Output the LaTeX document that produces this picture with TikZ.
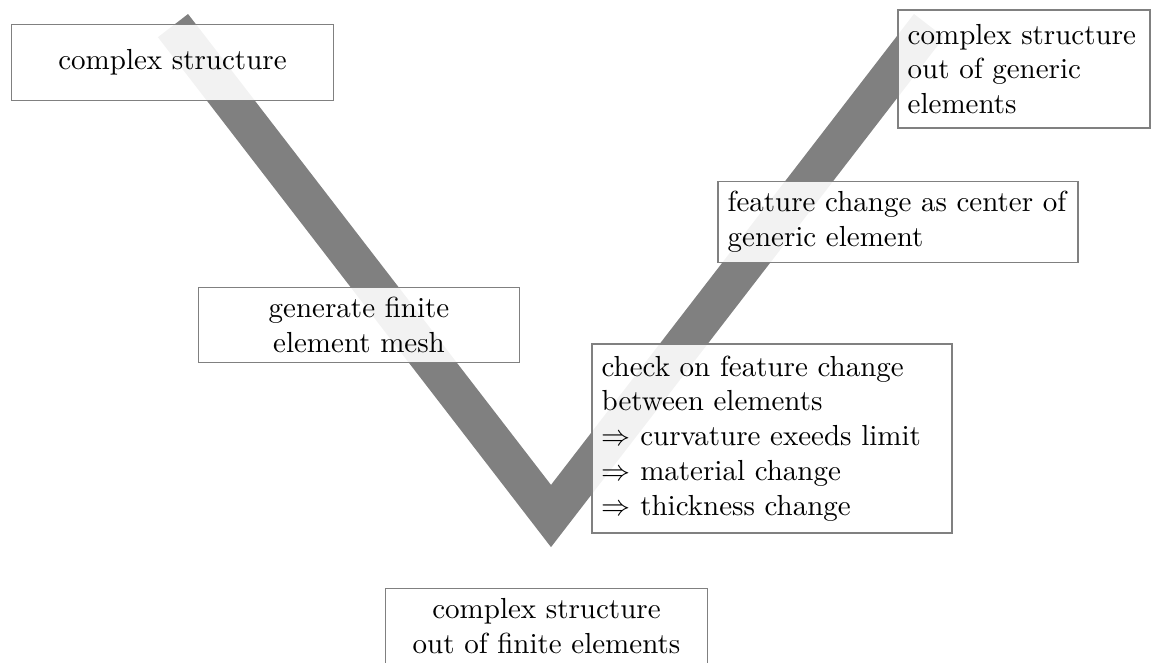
\documentclass[tikz,border=0pt]{standalone}
\begin{document}
\begin{tikzpicture}[x=0.34483pt,y=-0.34483pt,
  vband/.style={draw=gray,line width=13.1pt},
  stage/.style={draw=gray,line width=0.4pt,fill=white,fill opacity=0.9,text opacity=1,inner sep=3.33pt},
  cbox/.style={stage,text width=104.3pt,align=center,minimum height=26pt},
  lbox/.style={stage,align=left}]
\useasboundingbox (0,0) rectangle (1151,662);
\coordinate (vl) at (173,25.6);
\coordinate (vb) at (551,516);
\coordinate (vr) at (929,25.6);
\draw[vband] (vl) -- (vb) -- (vr);
\node[cbox] (a) at (172.5,62.5) {complex structure};
\node[cbox] (b) at (359,325) {generate finite\\element mesh};
\node[cbox] (c) at (546.5,626) {complex structure\\out of finite elements};
\node[lbox,text width=80.2pt,minimum height=40.7pt] (d) at (1024,69) {complex structure\\out of generic\\elements};
\node[lbox,text width=117.5pt,minimum height=27.6pt] (e) at (898,222) {feature change as center of\\generic element};
\node[lbox,text width=117.5pt,minimum height=65.2pt] (f) at (772,438.5) {check on feature change\\between elements\\$\Rightarrow$ curvature exeeds limit\\$\Rightarrow$ material change\\$\Rightarrow$ thickness change};
\end{tikzpicture}
\end{document}
